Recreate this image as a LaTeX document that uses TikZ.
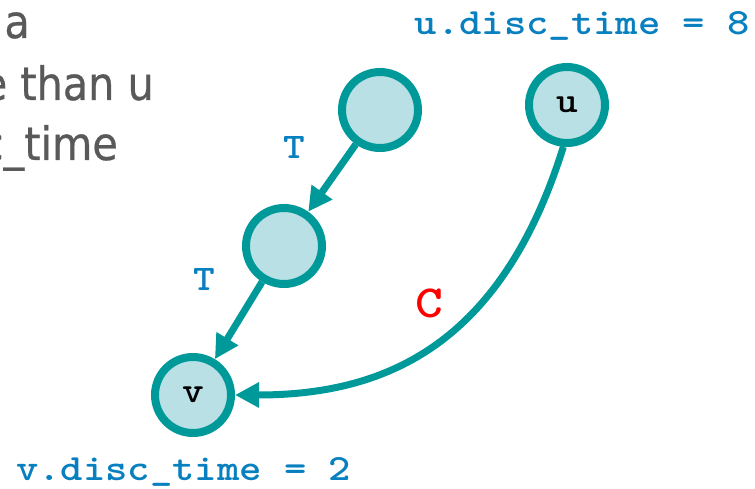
\documentclass[tikz,border=0pt]{standalone}
\usepackage{fontspec}
\newfontfamily\slidefont[FakeBold=0.6]{DejaVu Sans Condensed}
\newfontfamily\codefont[FakeStretch=1.15]{lmmonolt10-bold.otf}
\usepackage{xcolor}
\definecolor{dfsTeal}{RGB}{  0, 153, 153}
\definecolor{dfsMist}{RGB}{185, 224, 228}
\definecolor{dfsBlue}{RGB}{  8, 128, 192}
\definecolor{dfsRed} {RGB}{255,   0,   0}
\definecolor{dfsGrey}{RGB}{ 89,  89,  89}
\usetikzlibrary{
  arrows.meta,
}

\begin{document}
\begin{tikzpicture}[
  x=1pt, y=-1pt,
  >={Triangle[length=24pt, width=24pt]},
  vtx/.style    ={circle, draw=dfsTeal, line width=8pt, fill=dfsMist,
                  minimum size=76pt, inner sep=0pt,
                  font=\codefont\fontsize{36}{36}\selectfont},
  tedge/.style  ={->, line width=7pt, color=dfsTeal},
  elbl/.style   ={font=\codefont\fontsize{36}{36}\selectfont, text=dfsBlue},
  stamp/.style  ={font=\codefont\fontsize{37}{37}\selectfont, text=dfsBlue,
                  inner sep=0pt},
  slideTxt/.style={font=\slidefont\fontsize{46}{46}\selectfont, text=dfsGrey,
                  anchor=base east, inner sep=0pt},
]
  \useasboundingbox (0,0) rectangle (755,489);
  \clip (0,0) rectangle (755,489);

  % Slide text cut off at the left edge
  \node[slideTxt] (ln1) at (30,38)  {a};
  \node[slideTxt] (ln2) at (154,100) {e than u};
  \node[slideTxt] (ln3) at (118,160) {c\_time};

  % Vertices
  \node[vtx] (top) at (380,110) {};
  \node[vtx] (mid) at (284,246) {};
  \node[vtx] (u)   at (567,105) {u};
  \node[vtx] (v)   at (193,395) {v};

  % Tree edges and the cross edge
  \draw[tedge] (top) -- (mid);
  \draw[tedge] (mid) -- (v);
  \draw[tedge] (u.265) .. controls (500,350) and (380,395) .. (v.east);

  \node[elbl] (t1) at (294,148) {T};
  \node[elbl] (t2) at (204,280) {T};
  \node[elbl, text=dfsRed, font=\codefont\fontsize{46}{46}\selectfont] (c) at (429,303) {C};

  % Discovery times
  \node[stamp, anchor=base east] (ut) at (750,35)  {u.disc\_time = 8};
  \node[stamp, anchor=base west] (vt) at (16,480)  {v.disc\_time = 2};

\end{tikzpicture}
\end{document}
